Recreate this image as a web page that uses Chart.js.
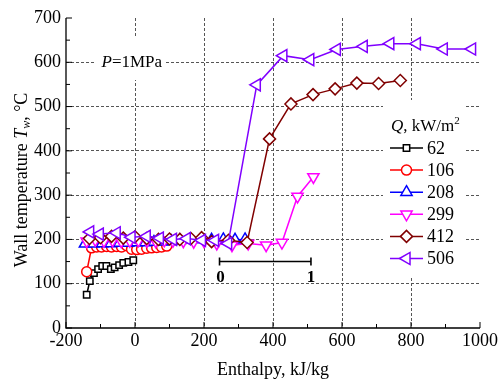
<!DOCTYPE html>
<html>
<head>
<meta charset="utf-8">
<script src="https://cdn.jsdelivr.net/npm/chart.js@4.4.1/dist/chart.umd.min.js"></script>
<style>
  body { margin: 0; background: #fff; }
  canvas { display: block; }
</style>
</head>
<body>
<canvas id="chart" width="498" height="382"></canvas>
<script>
// heat flux Q, kW/m2
const fluxLabels = ["62", "106", "208", "299", "412", "506"];

// enthalpy (kJ/kg) and wall temperature (°C) per heat flux
const enth62 = [-140, -131, -119, -107, -95, -83, -70, -59, -46, -34, -19, -5];
const temp62 = [75, 106, 124, 133, 140, 140, 133, 137, 142, 147, 149, 153];

const enth106 = [-140, -126, -111, -97, -82, -68, -53, -39, -24, -10, 5, 19, 34, 48, 63, 77, 92];
const temp106 = [127, 181, 183, 183, 184, 183, 184, 183, 186, 178, 177, 178, 180, 181, 182, 183, 185];

const enth208 = [-145, -120, -95, -70, -45, -20, 5, 30, 55, 80, 105, 130, 160, 194, 222, 256, 290, 319];
const temp208 = [190, 190, 191, 191, 192, 192, 193, 193, 194, 195, 196, 198, 199, 200, 199, 200, 199, 200];

const enth299 = [-140, -115, -90, -65, -40, -15, 10, 35, 60, 85, 110, 140, 170, 200, 237, 281, 328, 380, 426, 471, 517];
const temp299 = [196, 199, 197, 198, 196, 197, 198, 197, 196, 198, 197, 196, 195, 196, 191, 187, 191, 187, 193, 297, 341];

const enth412 = [-132, -100, -68, -34, 0, 34, 68, 100, 130, 162, 193, 222, 271, 325, 390, 452, 516, 580, 643, 706, 769];
const temp412 = [202, 204, 207, 203, 206, 202, 200, 201, 200, 202, 204, 195, 198, 193, 427, 506, 527, 540, 553, 552, 559];

const enth506 = [-130, -102, -53, -10, 34, 72, 110, 150, 194, 232, 270, 353, 430, 508, 585, 663, 740, 817, 895, 977];
const temp506 = [217, 212, 215, 205, 207, 203, 200, 202, 198, 198, 191, 549, 615, 606, 629, 636, 642, 642, 630, 630];

const xTicks = [-200, 0, 200, 400, 600, 800, 1000];
const yTicks = [0, 100, 200, 300, 400, 500, 600, 700];

// vapour quality bar 0..1 drawn in enthalpy units
const qualityEnth = [245, 510];
const qualityTemp = 150;

const enthSets = [enth62, enth106, enth208, enth299, enth412, enth506];
const tempSets = [temp62, temp106, temp208, temp299, temp412, temp506];
const colors = ["#000000", "#ff0000", "#0000ff", "#ff00ff", "#800000", "#8000ff"];
const markers = [
	{ style: "rect", rot: 0, r: 4.5 },
	{ style: "circle", rot: 0, r: 5 },
	{ style: "triangle", rot: 0, r: 6.5 },
	{ style: "triangle", rot: 180, r: 6.5 },
	{ style: "rectRot", rot: 0, r: 6 },
	{ style: "triangle", rot: -90, r: 7 },
];

const serif = "'Liberation Serif', 'Times New Roman', serif";

function toPoints(xs, ys) {
	return xs.map((v, i) => ({ x: v, y: ys[i] }));
}

const datasets = fluxLabels.map((lab, i) => ({
	label: lab,
	data: toPoints(enthSets[i], tempSets[i]),
	showLine: true,
	borderColor: colors[i],
	borderWidth: 1.5,
	pointStyle: markers[i].style,
	pointRotation: markers[i].rot,
	pointRadius: markers[i].r,
	pointBorderWidth: 1.5,
	pointBorderColor: colors[i],
	pointBackgroundColor: "#ffffff",
	order: fluxLabels.length - i,
}));

function gridColor(ctx, lo, hi) {
	const v = ctx.tick && ctx.tick.value;
	return v > lo && v < hi ? "#555" : "rgba(0,0,0,0)";
}

const decor = {
	id: "decor",
	beforeDatasetsDraw(chart) {
		const { ctx, scales } = chart;
		const x = scales.x, y = scales.y;
		ctx.save();
		// white patches over the grid behind the label and the legend
		ctx.fillStyle = "#ffffff";
		ctx.fillRect(96, 38, 70, 42);
		ctx.fillRect(383, 100, 82, 178);
		ctx.restore();
	},
	afterDraw(chart) {
		const { ctx, scales, chartArea } = chart;
		const x = scales.x, y = scales.y;
		ctx.save();

		// axes
		ctx.strokeStyle = "#000";
		ctx.lineWidth = 1.3;
		ctx.beginPath();
		ctx.moveTo(chartArea.left, chartArea.top);
		ctx.lineTo(chartArea.left, chartArea.bottom);
		ctx.lineTo(chartArea.right, chartArea.bottom);
		ctx.stroke();

		ctx.lineWidth = 1;
		ctx.beginPath();
		for (let v = 0; v <= 700; v += 50) {
			const py = y.getPixelForValue(v);
			const len = v % 100 === 0 ? 6 : 4;
			ctx.moveTo(chartArea.left, py);
			ctx.lineTo(chartArea.left + len, py);
		}
		for (let v = -200; v <= 1000; v += 100) {
			const px = x.getPixelForValue(v);
			const len = v % 200 === 0 ? 6 : 4;
			ctx.moveTo(px, chartArea.bottom);
			ctx.lineTo(px, chartArea.bottom - len);
		}
		ctx.stroke();

		// tick labels
		ctx.fillStyle = "#000";
		ctx.font = "18px " + serif;
		ctx.textAlign = "right";
		ctx.textBaseline = "middle";
		yTicks.forEach((v) => ctx.fillText(String(v), chartArea.left - 5, y.getPixelForValue(v)));
		ctx.textAlign = "center";
		ctx.textBaseline = "top";
		xTicks.forEach((v) => ctx.fillText(String(v), x.getPixelForValue(v), chartArea.bottom + 4));

		// x title
		ctx.textBaseline = "middle";
		ctx.fillText("Enthalpy, kJ/kg", 273, 370);

		// y title, rotated
		ctx.save();
		ctx.translate(22, 180);
		ctx.rotate(-Math.PI / 2);
		const parts = [
			{ t: "Wall temperature ", f: "18px " + serif, dy: 0 },
			{ t: "T", f: "italic 18px " + serif, dy: 0 },
			{ t: "w", f: "italic 12px " + serif, dy: 5 },
			{ t: ", °C", f: "18px " + serif, dy: 0 },
		];
		let total = 0;
		parts.forEach((p) => {
			ctx.font = p.f;
			p.w = ctx.measureText(p.t).width;
			total += p.w;
		});
		let cx = -total / 2;
		ctx.textAlign = "left";
		parts.forEach((p) => {
			ctx.font = p.f;
			ctx.fillText(p.t, cx, p.dy);
			cx += p.w;
		});
		ctx.restore();

		// P=1MPa
		ctx.textAlign = "left";
		ctx.textBaseline = "middle";
		const pX = x.getPixelForValue(-97);
		const pY = y.getPixelForValue(600);
		ctx.font = "italic 17px " + serif;
		ctx.fillText("P", pX, pY);
		const pw = ctx.measureText("P").width;
		ctx.font = "17px " + serif;
		ctx.fillText("=1MPa", pX + pw, pY);

		// quality bar 0..1
		const q0 = x.getPixelForValue(qualityEnth[0]);
		const q1 = x.getPixelForValue(qualityEnth[1]);
		const qy = y.getPixelForValue(qualityTemp);
		ctx.lineWidth = 1.6;
		ctx.beginPath();
		ctx.moveTo(q0, qy);
		ctx.lineTo(q1, qy);
		ctx.moveTo(q0, qy - 4);
		ctx.lineTo(q0, qy + 4);
		ctx.moveTo(q1, qy - 4);
		ctx.lineTo(q1, qy + 4);
		ctx.stroke();
		ctx.font = "bold 17px " + serif;
		ctx.textAlign = "center";
		ctx.fillText("0", q0 + 1, qy + 16);
		ctx.fillText("1", q1, qy + 16);

		// legend
		ctx.textAlign = "left";
		ctx.font = "italic 17px " + serif;
		ctx.fillText("Q", 391, 127);
		let tx = 391 + ctx.measureText("Q").width;
		ctx.font = "17px " + serif;
		ctx.fillText(", kW/m", tx, 127);
		tx += ctx.measureText(", kW/m").width;
		ctx.font = "11px " + serif;
		ctx.fillText("2", tx, 121);

		fluxLabels.forEach((lab, i) => {
			const ry = 148 + i * 22.1;
			ctx.strokeStyle = colors[i];
			ctx.lineWidth = 1.5;
			ctx.beginPath();
			ctx.moveTo(390, ry);
			ctx.lineTo(423, ry);
			ctx.stroke();
			ctx.fillStyle = "#ffffff";
			Chart.helpers.drawPoint(ctx, {
				pointStyle: markers[i].style,
				rotation: markers[i].rot,
				radius: markers[i].r,
				borderWidth: 1.5,
			}, 406.5, ry);
			ctx.fillStyle = "#000";
			ctx.font = "18px " + serif;
			ctx.fillText(lab, 427, ry + 1);
		});

		ctx.restore();
	},
};

new Chart(document.getElementById("chart").getContext("2d"), {
	type: "scatter",
	data: { datasets: datasets },
	options: {
		responsive: false,
		animation: false,
		devicePixelRatio: 1,
		layout: { padding: { left: 66, right: 18, top: 18, bottom: 54 } },
		plugins: {
			legend: { display: false },
			tooltip: { enabled: false },
		},
		elements: { line: { tension: 0 } },
		scales: {
			x: {
				type: "linear",
				min: -200,
				max: 1000,
				ticks: { stepSize: 200, display: false },
				grid: { drawTicks: false, lineWidth: 1, color: (c) => gridColor(c, -200, 1000) },
				border: { display: false, dash: [3, 2] },
			},
			y: {
				type: "linear",
				min: 0,
				max: 700,
				ticks: { stepSize: 100, display: false },
				grid: { drawTicks: false, lineWidth: 1, color: (c) => gridColor(c, 0, 700) },
				border: { display: false, dash: [3, 2] },
			},
		},
	},
	plugins: [decor],
});
</script>
</body>
</html>
